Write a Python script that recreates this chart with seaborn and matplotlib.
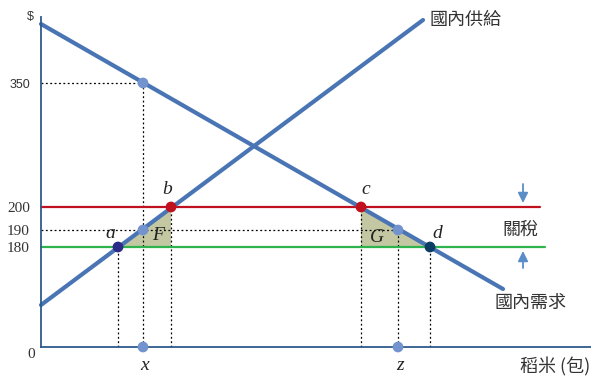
import numpy as np
import pandas as pd
import seaborn as sns
import matplotlib.pyplot as plt

# schematic units (the reference axis is not to scale)
supply_q = [0, 382]
supply_p = [42, 327]
demand_q = [0, 462]
demand_p = [323, 58]

tariff_price = 140      # 200
world_price = 100       # 180
mid_price = 117         # 190
high_price = 264        # 350

price_ticks = [high_price, tariff_price, mid_price, world_price]
price_labels = ["350", "200", "190", "180"]

q_a, q_b, q_c, q_d = 77, 130, 320, 389
q_x, q_z = 102, 357

line_color = "#4a75b4"
red = "#c0111e"
green = "#2fb34c"
light = "#7393cf"
fill = "#c4c8a2"

sns.set_style("white")
plt.rcParams["font.family"] = ["Noto Sans CJK TC", "DejaVu Sans"]

fig = plt.figure(figsize=(5.91, 3.81), dpi=100)
ax = fig.add_axes([0, 0, 1, 1])
ax.set_xlim(-41, 550)
ax.set_ylim(-34, 347)

# welfare triangles F and G
ax.fill([q_a, q_b, q_b], [world_price, tariff_price, world_price], color=fill, lw=0)
ax.fill([q_c, q_c, q_d], [tariff_price, world_price, world_price], color=fill, lw=0)

# dotted guides
dot = dict(color="black", ls=(0, (1.5, 2)), lw=0.9)
ax.plot([0, q_x], [high_price, high_price], **dot)
ax.plot([0, q_z], [mid_price, mid_price], **dot)
for q, p in [(q_a, world_price), (q_x, high_price), (q_b, tariff_price),
             (q_c, tariff_price), (q_z, mid_price), (q_d, world_price)]:
    ax.plot([q, q], [0, p], **dot)

# price lines
sns.lineplot(x=[0, 499], y=[tariff_price, tariff_price], ax=ax, color=red, lw=1.6)
sns.lineplot(x=[0, 504], y=[world_price, world_price], ax=ax, color=green, lw=1.6)

# supply and demand
sns.lineplot(x=supply_q, y=supply_p, ax=ax, color=line_color, lw=3.0)
sns.lineplot(x=demand_q, y=demand_p, ax=ax, color=line_color, lw=3.0)

# points
pts = pd.DataFrame({
    "q": [q_x, q_x, q_z, q_x, q_z, q_a, q_b, q_c, q_d],
    "p": [high_price, mid_price, mid_price, 0, 0, world_price, tariff_price, tariff_price, world_price],
    "c": [light, light, light, light, light, "#2b2b88", red, red, "#0b3c63"],
})
sns.scatterplot(data=pts, x="q", y="p", ax=ax, c=pts["c"], s=60, linewidth=0, zorder=5, clip_on=False)

# tariff arrows
arrow = dict(arrowstyle="-|>,head_length=0.6,head_width=0.3", color="#5a8ec8", lw=1.3,
             shrinkA=0, shrinkB=0)
ax.annotate("", xy=(482, 144), xytext=(482, 163), arrowprops=arrow)
ax.annotate("", xy=(482, 96), xytext=(482, 79), arrowprops=arrow)

# axes
for s in ["top", "right"]:
    ax.spines[s].set_visible(False)
for s in ["left", "bottom"]:
    ax.spines[s].set_position(("data", 0))
    ax.spines[s].set_color("#2e5b8c")
    ax.spines[s].set_linewidth(1.3)
ax.spines["left"].set_bounds(0, 330)
ax.spines["bottom"].set_bounds(0, 550)
ax.set_xticks([])
ax.set_yticks(price_ticks, price_labels)
ax.tick_params(axis="y", length=0, pad=8, colors="#333333")
for lab in ax.get_yticklabels():
    if lab.get_text() == "350":
        lab.set_fontfamily("Liberation Sans")
        lab.set_fontsize(9)
    else:
        lab.set_fontfamily("Liberation Serif")
        lab.set_fontsize(11)
ax.set_xlabel("")
ax.set_ylabel("")

# labels
txt = dict(color="#333333", fontsize=13)
ax.text(389, 327, "國內供給", ha="left", va="center", **txt)
ax.text(454, 44, "國內需求", ha="left", va="center", **txt)
ax.text(479, 117, "關稅", ha="center", va="center", **txt)
ax.text(549, -20, "稻米 (包)", ha="right", va="center", **txt)
ax.text(-11, 330, "$", ha="center", va="center", fontsize=9, family="Liberation Sans", color="#333333")
ax.text(-10, -8, "0", ha="center", va="center", fontsize=11, family="Liberation Serif", color="#333333")

ital = dict(family="Liberation Serif", style="italic", fontsize=14, color="#222222", ha="center", va="center")
ax.text(69, 114, "a", **ital)
ax.text(126, 157, "b", **ital)
ax.text(325, 157, "c", **ital)
ax.text(396, 113, "d", **ital)
ax.text(117, 112, "F", **ital)
ax.text(336, 110, "G", **ital)
ax.text(104, -18, "x", **ital)
ax.text(359, -18, "z", **ital)

fig.savefig("out.png", dpi=100)
